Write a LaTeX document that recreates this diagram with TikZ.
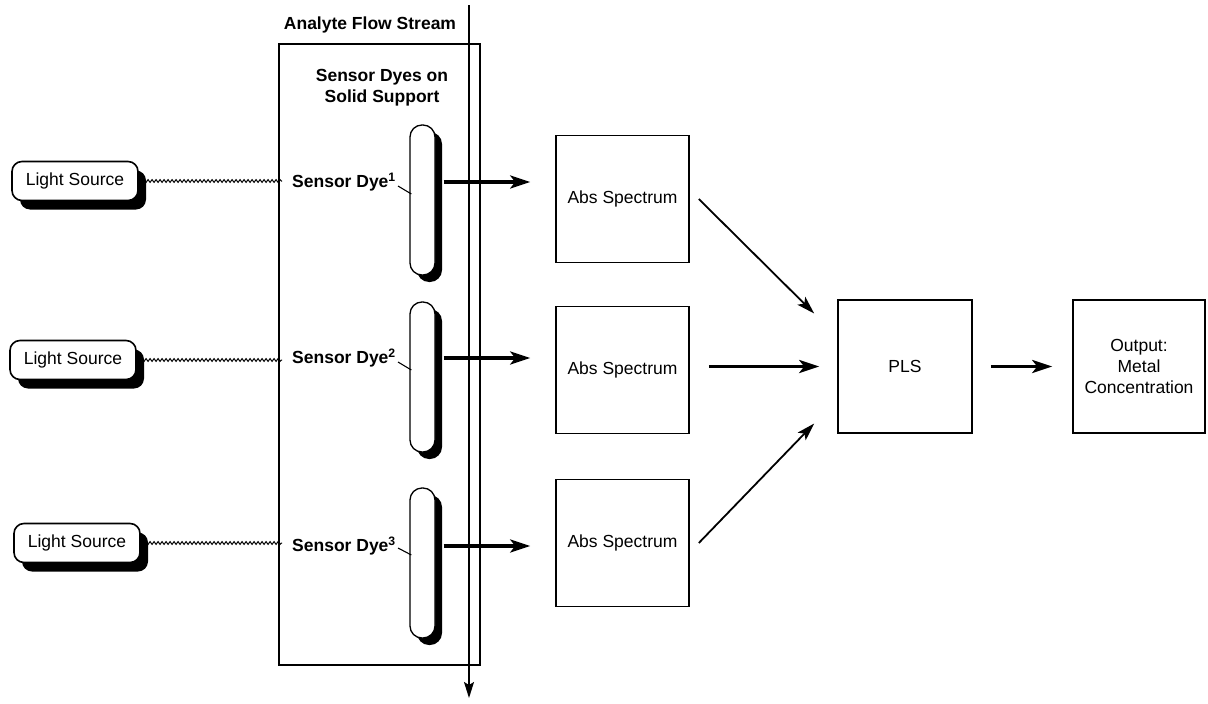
\documentclass[tikz,border=0pt]{standalone}
\usepackage{fontspec}
\setmainfont{Liberation Sans}
\usetikzlibrary{shadows,decorations.pathmorphing,arrows.meta,calc}
\begin{document}
\begin{tikzpicture}[x=1pt,y=-1pt,
  txt/.style={font=\fontsize{17.5}{21}\selectfont},
  btxt/.style={font=\bfseries\fontsize{17.5}{21}\selectfont},
  lsbox/.style={txt, draw, line width=1.6pt, rounded corners=10pt, fill=white,
    minimum width=126pt, minimum height=39pt, inner sep=0pt,
    drop shadow={shadow xshift=8pt, shadow yshift=-9pt, fill=black, opacity=1}},
  capsule/.style={draw, line width=1.3pt, rounded corners=12pt, fill=white,
    minimum width=25pt, minimum height=150pt, inner sep=0pt,
    drop shadow={shadow xshift=7pt, shadow yshift=-7pt, fill=black, opacity=1}},
  sq/.style={txt, draw, line width=1.6pt, minimum width=133pt, minimum height=127pt,
    inner sep=0pt, align=center},
  dyetxt/.style={btxt, anchor=west, inner ysep=0pt, inner xsep=10pt},
  wavy/.style={line width=1pt, decorate, decoration={snake, amplitude=1.4pt, segment length=4pt}},
  bigarrow/.style={line width=3.3pt, -{Stealth[length=20pt,width=13pt,inset=5pt]}},
  thinarrow/.style={line width=1.8pt, -{Stealth[length=18pt,width=11pt,inset=4pt]}},
  leader/.style={line width=1.1pt}
]
\useasboundingbox (0,0) rectangle (1208,704);

% support box and flow stream
\node[draw, line width=1.5pt, minimum width=201pt, minimum height=621pt, inner sep=0pt] (support) at (379.5,354.5) {};
\node[btxt] (flowlbl) at (370,25) {Analyte Flow Stream};
\node[btxt, align=center] (suplbl) at (382,88) {Sensor Dyes on\\Solid Support};
\coordinate (ftop) at (469,5);
\coordinate (fbot) at (469,698);
\draw[line width=1.5pt, -{Stealth[length=16pt,width=10pt,inset=3pt]}] (ftop) -- (fbot);

% light sources
\node[lsbox] (ls1) at (75,181) {Light Source};
\node[lsbox] (ls2) at (73,360) {Light Source};
\node[lsbox] (ls3) at (77,543) {Light Source};

% capsules
\node[capsule] (cap1) at (422.5,200) {};
\node[capsule] (cap2) at (422.5,377) {};
\node[capsule] (cap3) at (422.5,563) {};

% dye labels
\node[dyetxt] (dye1) at (282,182) {Sensor Dye\textsuperscript{1}};
\node[dyetxt] (dye2) at (282,358) {Sensor Dye\textsuperscript{2}};
\node[dyetxt] (dye3) at (282,546) {Sensor Dye\textsuperscript{3}};

\draw[wavy] (ls1.east) -- (ls1.east -| dye1.west);
\draw[wavy] (ls2.east) -- (ls2.east -| dye2.west);
\draw[wavy] (ls3.east) -- (ls3.east -| dye3.west);

\draw[leader] ($(dye1.east)+(-8,4)$) -- ($(cap1.west)+(2,-6)$);
\draw[leader] ($(dye2.east)+(-8,4)$) -- ($(cap2.west)+(2,-7)$);
\draw[leader] ($(dye3.east)+(-8,2)$) -- ($(cap3.west)+(2,-8)$);

% spectra
\node[sq] (abs1) at (622.5,199) {Abs Spectrum};
\node[sq] (abs2) at (622.5,370) {Abs Spectrum};
\node[sq] (abs3) at (622.5,543) {Abs Spectrum};

\draw[bigarrow, shorten <=8pt, shorten >=25pt] (cap1.east |- dye1.center) -- (abs1.west |- dye1.center);
\draw[bigarrow, shorten <=8pt, shorten >=25pt] (cap2.east |- dye2.center) -- (abs2.west |- dye2.center);
\draw[bigarrow, shorten <=8pt, shorten >=25pt] (cap3.east |- dye3.center) -- (abs3.west |- dye3.center);

% PLS and output
\node[sq, minimum width=134pt, minimum height=133pt] (pls) at (905,366.5) {PLS};
\node[sq, minimum width=132pt, minimum height=133pt] (out) at (1139,366.5) {Output:\\Metal\\Concentration};

\draw[thinarrow] ($(abs1.east)+(9,0)$) -- ($(pls.west)+(-23,-53)$);
\draw[bigarrow, shorten <=19pt, shorten >=18pt] (abs2.east |- pls.west) -- (pls.west);
\draw[thinarrow] ($(abs3.east)+(9,0)$) -- ($(pls.west)+(-23,57)$);
\draw[bigarrow, shorten <=18pt, shorten >=20pt] (pls.east) -- (out.west);
\end{tikzpicture}
\end{document}
